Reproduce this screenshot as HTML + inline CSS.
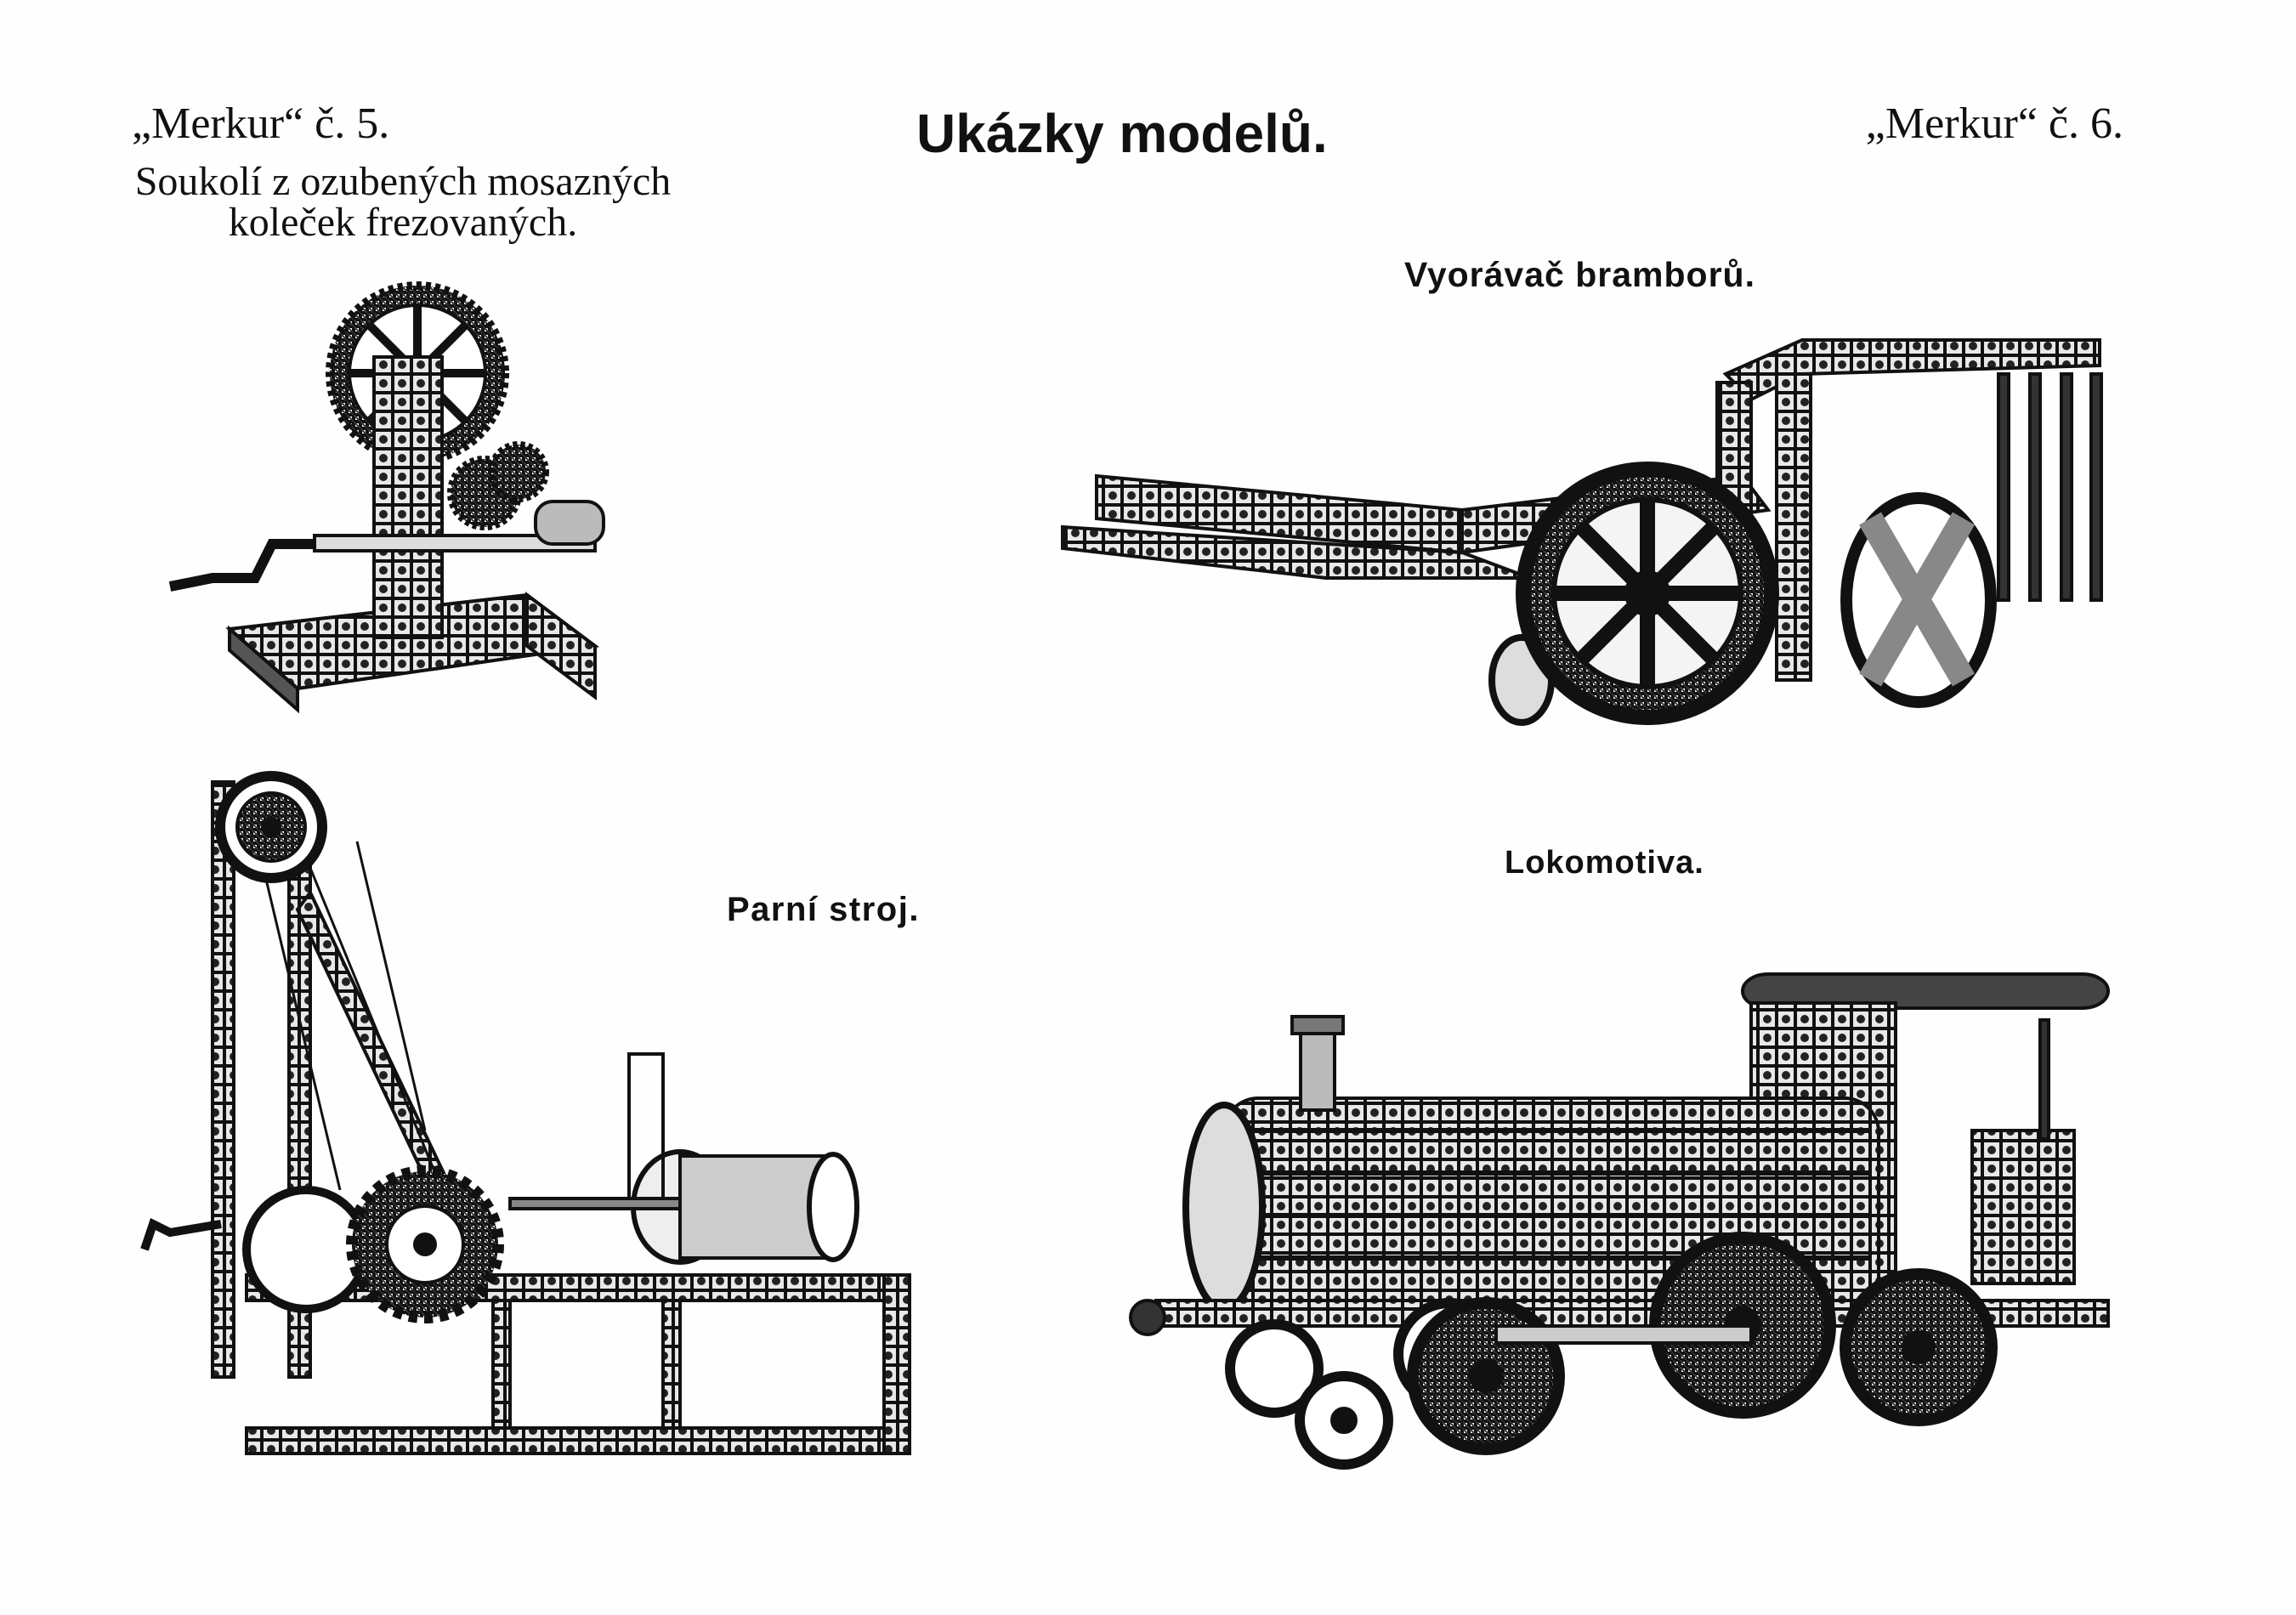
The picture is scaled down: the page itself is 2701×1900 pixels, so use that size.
<!DOCTYPE html>
<html><head><meta charset="utf-8"><style>
html,body{margin:0;padding:0;background:#fefefe;}
body{width:2701px;height:1900px;position:relative;overflow:hidden;}
.t{position:absolute;white-space:nowrap;color:#111;}
.serif{font-family:"Liberation Serif",serif;}
.sans{font-family:"Liberation Sans",sans-serif;font-weight:bold;}
svg{position:absolute;left:0;top:0;}
</style></head><body>
<svg width="2701" height="1900" viewBox="0 0 2701 1900" fill="none" stroke="#111" stroke-width="4">
<defs>
<pattern id="perf" width="22" height="22" patternUnits="userSpaceOnUse"><rect width="22" height="22" fill="#e8e8e8"/><circle cx="11" cy="11" r="5" fill="#222" stroke="none"/></pattern>
<pattern id="hatch" width="8" height="8" patternUnits="userSpaceOnUse"><rect width="8" height="8" fill="#fff"/><path d="M0 0L8 8" stroke="#333" stroke-width="2"/></pattern>
</defs>
<g>
<polygon points="270,740 620,700 700,760 350,810" fill="url(#perf)"/>
<polygon points="270,740 350,810 350,835 270,765" fill="#555"/>
<polygon points="620,700 700,760 700,820 620,760" fill="url(#perf)"/>
<circle cx="491" cy="439" r="103" fill="url(#hatch)" stroke-width="10" stroke-dasharray="6 5"/>
<circle cx="491" cy="439" r="80" fill="#fff"/>
<circle cx="491" cy="439" r="20" fill="#333"/>
<path d="M491 359V519M411 439H571M434 382L548 496M548 382L434 496" stroke-width="10"/>
<rect x="440" y="420" width="80" height="330" fill="url(#perf)"/>
<circle cx="570" cy="580" r="40" fill="url(#hatch)" stroke-dasharray="5 4" stroke-width="8"/>
<circle cx="610" cy="555" r="32" fill="url(#hatch)" stroke-dasharray="5 4" stroke-width="8"/>
<rect x="370" y="630" width="330" height="18" fill="#ddd"/>
<path d="M370 640 L320 640 L300 680 L250 680 L200 690" stroke-width="12"/>
<rect x="630" y="590" width="80" height="50" rx="20" fill="#bbb"/>
</g>
<g>
<polygon points="1290,560 1720,600 1720,650 1290,610" fill="url(#perf)"/>
<polygon points="1250,620 1720,650 1800,680 1560,680 1250,645" fill="url(#perf)"/>
<polygon points="1720,600 2050,560 2080,600 1720,650" fill="url(#perf)"/>
<polygon points="2030,440 2120,400 2470,400 2470,430 2120,440 2060,470" fill="url(#perf)"/>
<rect x="2020" y="450" width="40" height="330" fill="url(#perf)"/>
<rect x="2090" y="440" width="40" height="360" fill="url(#perf)"/>
<ellipse cx="1790" cy="800" rx="35" ry="50" fill="#ddd" stroke-width="8"/>
<circle cx="1938" cy="698" r="146" fill="url(#hatch)" stroke-width="18"/>
<circle cx="1938" cy="698" r="110" fill="#f4f4f4" stroke-width="6"/>
<circle cx="1938" cy="698" r="25" fill="#444"/>
<path d="M1938 588V808M1828 698H2048M1860 620L2016 776M2016 620L1860 776" stroke-width="18"/>
<ellipse cx="2257" cy="706" rx="85" ry="120" fill="#fff" stroke-width="14"/>
<path d="M2200 610L2310 800M2310 610L2200 800" stroke-width="30" stroke="#888"/>
<g fill="#333"><rect x="2351" y="440" width="12" height="266"/><rect x="2388" y="440" width="12" height="266"/><rect x="2425" y="440" width="12" height="266"/><rect x="2460" y="440" width="12" height="266"/></g>
</g>
<g>
<rect x="250" y="920" width="25" height="700" fill="url(#perf)"/>
<rect x="340" y="1000" width="25" height="620" fill="url(#perf)"/>
<polygon points="365,1050 560,1460 540,1470 350,1070" fill="url(#perf)"/>
<path d="M300 980 L400 1400 M340 960 L520 1400 M420 990 L500 1330" stroke-width="3"/>
<circle cx="319" cy="973" r="60" fill="#fff" stroke-width="12"/>
<circle cx="319" cy="973" r="40" fill="url(#hatch)"/>
<circle cx="319" cy="973" r="10" fill="#111"/>
<rect x="290" y="1500" width="780" height="30" fill="url(#perf)"/>
<rect x="290" y="1680" width="780" height="30" fill="url(#perf)"/>
<rect x="580" y="1530" width="20" height="150" fill="url(#perf)"/>
<rect x="780" y="1530" width="20" height="150" fill="url(#perf)"/>
<rect x="1040" y="1500" width="30" height="210" fill="url(#perf)"/>
<circle cx="360" cy="1470" r="70" fill="#fff" stroke-width="10"/>
<circle cx="500" cy="1464" r="86" fill="url(#hatch)" stroke-width="14" stroke-dasharray="10 8"/>
<circle cx="500" cy="1464" r="45" fill="#fff"/>
<circle cx="500" cy="1464" r="12" fill="#111"/>
<ellipse cx="800" cy="1420" rx="55" ry="65" fill="#eee" stroke-width="6"/>
<rect x="800" y="1360" width="180" height="120" fill="#ccc"/>
<ellipse cx="980" cy="1420" rx="28" ry="62" fill="#fff" stroke-width="6"/>
<rect x="740" y="1240" width="40" height="180" fill="none"/>
<rect x="600" y="1410" width="200" height="12" fill="#888"/>
<path d="M260 1440 L200 1450 L180 1440 L170 1470" stroke-width="10"/>
</g>
<g>
<rect x="2050" y="1146" width="430" height="40" rx="30" fill="#444"/>
<rect x="2060" y="1180" width="170" height="330" fill="url(#perf)"/>
<rect x="2320" y="1330" width="120" height="180" fill="url(#perf)"/>
<rect x="2400" y="1200" width="10" height="140" fill="#333"/>
<rect x="1440" y="1292" width="770" height="250" rx="40" fill="url(#perf)"/>
<path d="M1460 1330H2200M1460 1380H2200M1460 1430H2200M1460 1480H2200" stroke-width="6"/>
<ellipse cx="1440" cy="1420" rx="45" ry="120" fill="#ddd" stroke-width="8"/>
<rect x="1530" y="1206" width="40" height="100" fill="#bbb"/>
<rect x="1520" y="1196" width="60" height="20" fill="#777"/>
<rect x="1360" y="1530" width="1120" height="30" fill="url(#perf)"/>
<circle cx="1350" cy="1550" r="20" fill="#333"/>
<circle cx="1499" cy="1610" r="52" fill="#fff" stroke-width="12"/>
<circle cx="1581" cy="1671" r="52" fill="#fff" stroke-width="12"/><circle cx="1581" cy="1671" r="14" fill="#111"/>
<circle cx="1705" cy="1593" r="60" fill="#fff" stroke-width="12"/>
<circle cx="1748" cy="1619" r="86" fill="url(#hatch)" stroke-width="14"/><circle cx="1748" cy="1619" r="18" fill="#111"/>
<circle cx="2050" cy="1559" r="103" fill="url(#hatch)" stroke-width="14"/><circle cx="2050" cy="1559" r="20" fill="#111"/>
<circle cx="2257" cy="1585" r="86" fill="url(#hatch)" stroke-width="14"/><circle cx="2257" cy="1585" r="18" fill="#111"/>
<rect x="1760" y="1560" width="300" height="20" fill="#ccc"/>
</g>
</svg>
<div class="t serif" style="left:155px;top:116px;font-size:52px;">„Merkur“ č. 5.</div>
<div class="t serif" style="left:0;width:948px;text-align:center;top:190px;font-size:48px;line-height:48px;">Soukolí z ozubených mosazných<br>koleček frezovaných.</div>
<div class="t sans" style="left:1078px;top:120px;font-size:64px;">Ukázky modelů.</div>
<div class="t serif" style="right:203px;top:116px;font-size:52px;">„Merkur“ č. 6.</div>
<div class="t sans" style="left:1652px;top:300px;font-size:41px;letter-spacing:1px;">Vyorávač bramborů.</div>
<div class="t sans" style="left:1770px;top:994px;font-size:38px;letter-spacing:1px;">Lokomotiva.</div>
<div class="t sans" style="left:855px;top:1048px;font-size:40px;letter-spacing:1.5px;">Parní stroj.</div>
</body></html>
